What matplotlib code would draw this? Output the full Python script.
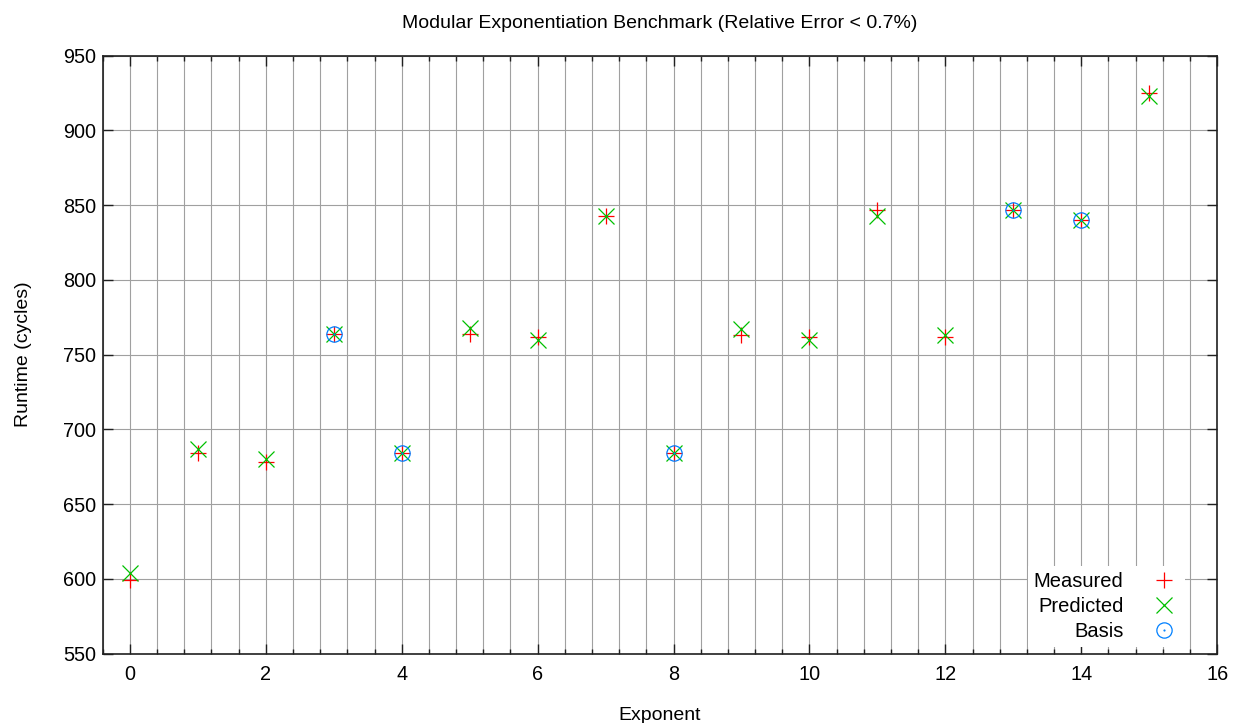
import matplotlib
matplotlib.use("Agg")
import matplotlib.pyplot as plt
from matplotlib.path import Path
from matplotlib.ticker import MultipleLocator

plt.rcParams['font.family'] = ['Liberation Sans', 'DejaVu Sans']

exponent = list(range(16))
measured = [599, 684, 678, 764, 684, 764, 762, 843, 684, 763, 762, 847, 762, 847, 840, 925]
predicted = [604, 687, 680, 764, 684, 768, 760, 843, 684, 767, 760, 843, 763, 847, 840, 923]
basis_x = [3, 4, 8, 13, 14]
basis_y = [764, 684, 684, 847, 840]

# gnuplot-style circle with a dot in the middle
dot = Path.circle((0, 0), 0.06)
ring = Path.unit_circle()
odot = Path.make_compound_path(ring, dot)

fig = plt.figure(figsize=(12.42, 7.23), dpi=100)
ax = fig.add_axes([0.0827, 0.096, 0.8973, 0.827])

ax.plot(exponent, measured, ls='none', marker='+', ms=11, mew=0.9,
        color='#ff0000', label='Measured')
ax.plot(exponent, predicted, ls='none', marker='x', ms=11, mew=0.9,
        color='#00c000', label='Predicted')
ax.plot(basis_x, basis_y, ls='none', marker=odot, ms=11, mew=0.9,
        mfc='none', color='#0080ff', label='Basis')

ax.set_xlim(-0.4, 16)
ax.set_ylim(550, 950)
ax.xaxis.set_major_locator(MultipleLocator(2))
ax.xaxis.set_minor_locator(MultipleLocator(0.4))
ax.yaxis.set_major_locator(MultipleLocator(50))

ax.grid(True, which='major', color='#a0a0a0', lw=0.8)
ax.grid(True, which='minor', axis='x', color='#a0a0a0', lw=0.8)
ax.set_axisbelow(True)

ax.tick_params(which='both', direction='in', top=True, right=True,
               labelsize=14.3, width=1, color='#202020')
ax.tick_params(which='major', length=7)
ax.tick_params(which='minor', length=3.5)
ax.tick_params(axis='x', which='major', pad=8.5)
ax.tick_params(axis='y', which='major', pad=5)
for s in ax.spines.values():
    s.set_linewidth(1.2)
    s.set_color('#202020')

ax.set_title('Modular Exponentiation Benchmark (Relative Error < 0.7%)',
             fontsize=14, pad=20)
ax.set_xlabel('Exponent', fontsize=14, labelpad=16)
ax.set_ylabel('Runtime (cycles)', fontsize=14, labelpad=22)

ax.legend(loc='lower right', bbox_to_anchor=(0.98, -0.006),
          markerfirst=False, frameon=True, fancybox=False,
          edgecolor='none', framealpha=1, fontsize=14.5,
          labelspacing=0.3, handletextpad=1.25, handlelength=1.5,
          borderpad=0.3)

fig.savefig('out.png', dpi=100)
